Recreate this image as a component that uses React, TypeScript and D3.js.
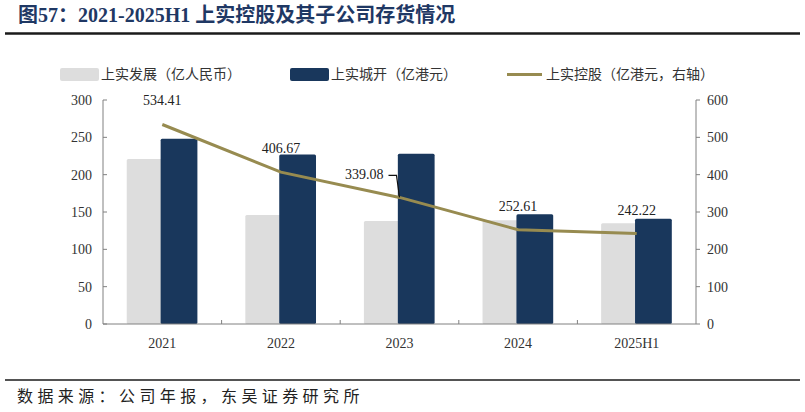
import { FC, useEffect, useRef } from 'react';
import * as d3 from 'd3';

// chart data
const categories = ['2021', '2022', '2023', '2024', '2025H1'];
const shiDevelopment = [221, 146, 138, 139, 135]; // 上实发展（亿人民币）
const shiUrban = [248, 227, 228, 147, 141]; // 上实城开（亿港元）
const shiHoldings = [534.41, 406.67, 339.08, 252.61, 242.22]; // 上实控股（亿港元，右轴）
const leftTicks = [0, 50, 100, 150, 200, 250, 300];
const rightTicks = [0, 100, 200, 300, 400, 500, 600];

const title = '图57：2021-2025H1 上实控股及其子公司存货情况';
const source = '数据来源：公司年报，东吴证券研究所';
const legendNames = ['上实发展（亿人民币）', '上实城开（亿港元）', '上实控股（亿港元，右轴）'];

const GREY = '#DDDDDD';
const NAVY = '#19375C';
const OLIVE = '#978B50';
const AXIS = '#808080';
const NUM_FONT = '"Liberation Serif", "DejaVu Serif", serif';
const CJK_FONT = '"Noto Sans CJK SC", "Noto Sans", sans-serif';

const App: FC = () => {
  const chartRef = useRef<SVGSVGElement>(null);

  useEffect(() => {
    const svg = d3.select(chartRef.current);
    svg.selectAll('*').remove();

    const plot = { left: 103, right: 696, top: 100, bottom: 324 };

    // header
    svg
      .append('text')
      .attr('x', 18)
      .attr('y', 22)
      .attr('fill', '#1F3864')
      .attr('font-size', 20)
      .attr('font-weight', 'bold')
      .attr('font-family', `"Liberation Serif", ${CJK_FONT}`)
      .text(title);
    svg
      .append('line')
      .attr('x1', 5)
      .attr('x2', 800)
      .attr('y1', 33.5)
      .attr('y2', 33.5)
      .attr('stroke', '#1a1a1a')
      .attr('stroke-width', 2.3);

    // footer
    svg
      .append('line')
      .attr('x1', 5)
      .attr('x2', 800)
      .attr('y1', 380)
      .attr('y2', 380)
      .attr('stroke', '#1a1a1a')
      .attr('stroke-width', 1.5);
    svg
      .append('text')
      .attr('x', 17)
      .attr('y', 402)
      .attr('fill', '#222')
      .attr('font-size', 16)
      .attr('letter-spacing', 4.4)
      .attr('font-family', CJK_FONT)
      .text(source);

    // scales
    const x = d3
      .scaleBand()
      .domain(categories)
      .range([plot.left, plot.right])
      .padding(0);
    const bw = x.bandwidth();
    const yL = d3.scaleLinear().domain([0, 300]).range([plot.bottom, plot.top]);
    const yR = d3.scaleLinear().domain([0, 600]).range([plot.bottom, plot.top]);

    // bars
    const barW = bw * 0.31;
    svg
      .append('g')
      .selectAll('rect')
      .data(shiDevelopment)
      .enter()
      .append('rect')
      .attr('x', (_, i) => x(categories[i])! + bw * 0.2)
      .attr('y', (d) => yL(d))
      .attr('width', barW)
      .attr('height', (d) => plot.bottom - yL(d))
      .attr('rx', 1.5)
      .attr('fill', GREY);
    svg
      .append('g')
      .selectAll('rect')
      .data(shiUrban)
      .enter()
      .append('rect')
      .attr('x', (_, i) => x(categories[i])! + bw * 0.486)
      .attr('y', (d) => yL(d))
      .attr('width', barW)
      .attr('height', (d) => plot.bottom - yL(d))
      .attr('rx', 1.5)
      .attr('fill', NAVY);

    // axes
    const axisG = svg.append('g').attr('stroke', AXIS).attr('stroke-width', 1);
    axisG.append('line').attr('x1', plot.left).attr('x2', plot.left).attr('y1', plot.top).attr('y2', plot.bottom);
    axisG.append('line').attr('x1', plot.right).attr('x2', plot.right).attr('y1', plot.top).attr('y2', plot.bottom);
    axisG.append('line').attr('x1', plot.left).attr('x2', plot.right).attr('y1', plot.bottom).attr('y2', plot.bottom);
    leftTicks.forEach((t) => {
      axisG.append('line').attr('x1', plot.left).attr('x2', plot.left + 4).attr('y1', yL(t)).attr('y2', yL(t));
    });
    rightTicks.forEach((t) => {
      axisG.append('line').attr('x1', plot.right).attr('x2', plot.right + 4).attr('y1', yR(t)).attr('y2', yR(t));
    });
    categories.slice(1).forEach((c) => {
      axisG.append('line').attr('x1', x(c)!).attr('x2', x(c)!).attr('y1', plot.bottom).attr('y2', plot.bottom - 4);
    });

    const numText = (g: d3.Selection<SVGGElement, unknown, null, undefined>) =>
      g.attr('font-family', NUM_FONT).attr('font-size', 14).attr('fill', '#333');

    svg
      .append('g')
      .call(numText)
      .selectAll('text')
      .data(leftTicks)
      .enter()
      .append('text')
      .attr('x', 92)
      .attr('y', (d) => yL(d))
      .attr('dy', '0.35em')
      .attr('text-anchor', 'end')
      .text((d) => d);
    svg
      .append('g')
      .call(numText)
      .selectAll('text')
      .data(rightTicks)
      .enter()
      .append('text')
      .attr('x', 707)
      .attr('y', (d) => yR(d))
      .attr('dy', '0.35em')
      .text((d) => d);
    svg
      .append('g')
      .call(numText)
      .selectAll('text')
      .data(categories)
      .enter()
      .append('text')
      .attr('x', (d) => x(d)! + bw / 2)
      .attr('y', 348)
      .attr('text-anchor', 'middle')
      .text((d) => d);

    // line series
    const pts: [number, number][] = shiHoldings.map((v, i) => [x(categories[i])! + bw / 2, yR(v)]);
    svg
      .append('path')
      .attr('d', d3.line()(pts))
      .attr('fill', 'none')
      .attr('stroke', OLIVE)
      .attr('stroke-width', 3);

    // data labels (the 2023 one sits to the left with a leader line)
    const labelG = svg.append('g').call(numText).attr('fill', '#222');
    shiHoldings.forEach((v, i) => {
      const [px, py] = pts[i];
      if (i === 2) {
        labelG
          .append('text')
          .attr('x', px - 16)
          .attr('y', py - 18)
          .attr('text-anchor', 'end')
          .text(v.toFixed(2));
        labelG
          .append('path')
          .attr('d', `M${px - 11},${py - 22}H${px - 3}L${px},${py}`)
          .attr('fill', 'none')
          .attr('stroke', '#111')
          .attr('stroke-width', 1.2);
      } else {
        labelG
          .append('text')
          .attr('x', px)
          .attr('y', py - 19)
          .attr('text-anchor', 'middle')
          .text(v.toFixed(2));
      }
    });

    // legend
    const lg = svg.append('g').attr('font-family', CJK_FONT).attr('font-size', 14).attr('fill', '#333');
    lg.append('rect').attr('x', 60).attr('y', 68).attr('width', 39).attr('height', 13).attr('rx', 2).attr('fill', GREY);
    lg.append('text').attr('x', 101).attr('y', 79).text(legendNames[0]);
    lg.append('rect').attr('x', 290).attr('y', 68).attr('width', 39).attr('height', 13).attr('rx', 2).attr('fill', NAVY);
    lg.append('text').attr('x', 331).attr('y', 79).text(legendNames[1]);
    lg.append('line').attr('x1', 507).attr('x2', 542).attr('y1', 74.5).attr('y2', 74.5).attr('stroke', OLIVE).attr('stroke-width', 3);
    lg.append('text').attr('x', 546).attr('y', 79).text(legendNames[2]);
  }, []);

  return (
    <svg
      ref={chartRef}
      width={805}
      height={412}
      style={{ position: 'absolute', left: 0, top: 0, background: '#fff' }}
    />
  );
};

export default App;
